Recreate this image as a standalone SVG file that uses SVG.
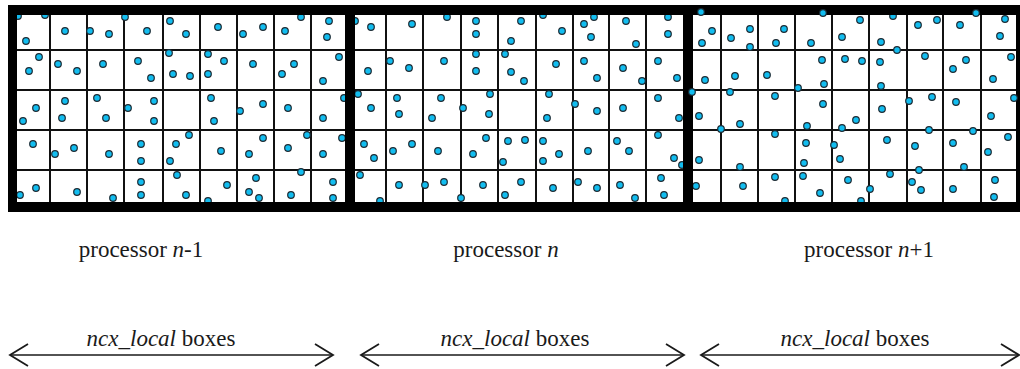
<svg xmlns="http://www.w3.org/2000/svg" width="1020" height="369" viewBox="0 0 1020 369">
<defs>
<style>
.bg{fill:#ffffff}
.g{stroke:#111;stroke-width:2;fill:none}
.frame{fill:#000;fill-rule:evenodd}
.p{fill:#12bdf0;stroke:#1b2a33;stroke-width:1.2}
.lbl{font-family:"Liberation Serif","Times New Roman",serif;font-size:23px;fill:#1a1a1a;text-anchor:middle}
.it{font-style:italic}
.arr{stroke:#1a1a1a;stroke-width:1.6;fill:none;marker-start:url(#chev);marker-end:url(#chev)}
</style>
<marker id="chev" markerUnits="userSpaceOnUse" markerWidth="22" markerHeight="26" viewBox="0 0 22 26" refX="20" refY="13" orient="auto-start-reverse">
<path d="M2,2 L20,13 L2,24" fill="none" stroke="#1a1a1a" stroke-width="1.8"/>
</marker>
</defs>
<rect class="bg" x="0" y="0" width="1020" height="369"/>

<g id="processor-n-minus-1">
<path class="g" d="M17,50H345M17,90H345M17,130H345M17,170H345M50,15V202M87,15V202M124,15V202M163,15V202M200,15V202M237,15V202M274,15V202M311,15V202"/>
<g>
<circle class="p" cx="18" cy="16" r="3.3"/><circle class="p" cx="45" cy="15" r="3.3"/><circle class="p" cx="26" cy="41" r="3.3"/><circle class="p" cx="65" cy="31" r="3.3"/><circle class="p" cx="90" cy="31" r="3.3"/><circle class="p" cx="109" cy="34" r="3.3"/><circle class="p" cx="125" cy="17" r="3.3"/><circle class="p" cx="147" cy="31" r="3.3"/><circle class="p" cx="170" cy="21" r="3.3"/><circle class="p" cx="186" cy="34" r="3.3"/><circle class="p" cx="218" cy="27" r="3.3"/><circle class="p" cx="243" cy="34" r="3.3"/><circle class="p" cx="263" cy="27" r="3.3"/><circle class="p" cx="285" cy="31" r="3.3"/><circle class="p" cx="301" cy="17" r="3.3"/><circle class="p" cx="329" cy="21" r="3.3"/><circle class="p" cx="327" cy="37" r="3.3"/>
<circle class="p" cx="39" cy="57" r="3.3"/><circle class="p" cx="29" cy="71" r="3.3"/><circle class="p" cx="58" cy="64" r="3.3"/><circle class="p" cx="77" cy="71" r="3.3"/><circle class="p" cx="103" cy="64" r="3.3"/><circle class="p" cx="138" cy="61" r="3.3"/><circle class="p" cx="151" cy="78" r="3.3"/><circle class="p" cx="169" cy="53" r="3.3"/><circle class="p" cx="173" cy="74" r="3.3"/><circle class="p" cx="190" cy="76" r="3.3"/><circle class="p" cx="208" cy="54" r="3.3"/><circle class="p" cx="224" cy="61" r="3.3"/><circle class="p" cx="208" cy="74" r="3.3"/><circle class="p" cx="253" cy="64" r="3.3"/><circle class="p" cx="294" cy="64" r="3.3"/><circle class="p" cx="282" cy="74" r="3.3"/><circle class="p" cx="339" cy="57" r="3.3"/><circle class="p" cx="323" cy="81" r="3.3"/>
<circle class="p" cx="36" cy="108" r="3.3"/><circle class="p" cx="23" cy="121" r="3.3"/><circle class="p" cx="65" cy="101" r="3.3"/><circle class="p" cx="62" cy="118" r="3.3"/><circle class="p" cx="97" cy="98" r="3.3"/><circle class="p" cx="106" cy="118" r="3.3"/><circle class="p" cx="128" cy="108" r="3.3"/><circle class="p" cx="154" cy="101" r="3.3"/><circle class="p" cx="154" cy="121" r="3.3"/><circle class="p" cx="211" cy="98" r="3.3"/><circle class="p" cx="214" cy="121" r="3.3"/><circle class="p" cx="240" cy="111" r="3.3"/><circle class="p" cx="263" cy="104" r="3.3"/><circle class="p" cx="288" cy="108" r="3.3"/><circle class="p" cx="323" cy="118" r="3.3"/><circle class="p" cx="344" cy="98" r="3.3"/>
<circle class="p" cx="33" cy="144" r="3.3"/><circle class="p" cx="55" cy="154" r="3.3"/><circle class="p" cx="74" cy="148" r="3.3"/><circle class="p" cx="109" cy="154" r="3.3"/><circle class="p" cx="141" cy="144" r="3.3"/><circle class="p" cx="141" cy="161" r="3.3"/><circle class="p" cx="189" cy="135" r="3.3"/><circle class="p" cx="176" cy="144" r="3.3"/><circle class="p" cx="170" cy="161" r="3.3"/><circle class="p" cx="221" cy="151" r="3.3"/><circle class="p" cx="263" cy="138" r="3.3"/><circle class="p" cx="249" cy="154" r="3.3"/><circle class="p" cx="307" cy="135" r="3.3"/><circle class="p" cx="288" cy="148" r="3.3"/><circle class="p" cx="342" cy="138" r="3.3"/><circle class="p" cx="323" cy="154" r="3.3"/>
<circle class="p" cx="20" cy="195" r="3.3"/><circle class="p" cx="36" cy="188" r="3.3"/><circle class="p" cx="77" cy="192" r="3.3"/><circle class="p" cx="113" cy="198" r="3.3"/><circle class="p" cx="141" cy="182" r="3.3"/><circle class="p" cx="141" cy="195" r="3.3"/><circle class="p" cx="177" cy="175" r="3.3"/><circle class="p" cx="186" cy="195" r="3.3"/><circle class="p" cx="208" cy="201" r="3.3"/><circle class="p" cx="227" cy="185" r="3.3"/><circle class="p" cx="256" cy="178" r="3.3"/><circle class="p" cx="249" cy="192" r="3.3"/><circle class="p" cx="259" cy="198" r="3.3"/><circle class="p" cx="301" cy="172" r="3.3"/><circle class="p" cx="291" cy="195" r="3.3"/><circle class="p" cx="333" cy="182" r="3.3"/><circle class="p" cx="333" cy="198" r="3.3"/>
</g>
</g>

<g id="processor-n">
<path class="g" d="M355,50H683M355,90H683M355,130H683M355,170H683M386,15V202M423,15V202M461,15V202M498,15V202M536,15V202M573,15V202M609,15V202M646,15V202"/>
<g>
<circle class="p" cx="355" cy="21" r="3.3"/><circle class="p" cx="371" cy="27" r="3.3"/><circle class="p" cx="412" cy="24" r="3.3"/><circle class="p" cx="447" cy="17" r="3.3"/><circle class="p" cx="476" cy="21" r="3.3"/><circle class="p" cx="476" cy="34" r="3.3"/><circle class="p" cx="521" cy="21" r="3.3"/><circle class="p" cx="511" cy="41" r="3.3"/><circle class="p" cx="543" cy="15" r="3.3"/><circle class="p" cx="562" cy="31" r="3.3"/><circle class="p" cx="584" cy="24" r="3.3"/><circle class="p" cx="594" cy="17" r="3.3"/><circle class="p" cx="591" cy="37" r="3.3"/><circle class="p" cx="626" cy="21" r="3.3"/><circle class="p" cx="636" cy="44" r="3.3"/><circle class="p" cx="668" cy="17" r="3.3"/><circle class="p" cx="668" cy="34" r="3.3"/>
<circle class="p" cx="368" cy="71" r="3.3"/><circle class="p" cx="390" cy="61" r="3.3"/><circle class="p" cx="409" cy="68" r="3.3"/><circle class="p" cx="444" cy="61" r="3.3"/><circle class="p" cx="476" cy="54" r="3.3"/><circle class="p" cx="476" cy="71" r="3.3"/><circle class="p" cx="505" cy="54" r="3.3"/><circle class="p" cx="511" cy="72" r="3.3"/><circle class="p" cx="524" cy="81" r="3.3"/><circle class="p" cx="556" cy="64" r="3.3"/><circle class="p" cx="584" cy="61" r="3.3"/><circle class="p" cx="597" cy="78" r="3.3"/><circle class="p" cx="623" cy="68" r="3.3"/><circle class="p" cx="642" cy="81" r="3.3"/><circle class="p" cx="658" cy="61" r="3.3"/><circle class="p" cx="677" cy="78" r="3.3"/>
<circle class="p" cx="358" cy="94" r="3.3"/><circle class="p" cx="371" cy="108" r="3.3"/><circle class="p" cx="397" cy="98" r="3.3"/><circle class="p" cx="399" cy="114" r="3.3"/><circle class="p" cx="441" cy="98" r="3.3"/><circle class="p" cx="432" cy="118" r="3.3"/><circle class="p" cx="463" cy="108" r="3.3"/><circle class="p" cx="490" cy="94" r="3.3"/><circle class="p" cx="489" cy="114" r="3.3"/><circle class="p" cx="549" cy="94" r="3.3"/><circle class="p" cx="547" cy="118" r="3.3"/><circle class="p" cx="575" cy="104" r="3.3"/><circle class="p" cx="597" cy="111" r="3.3"/><circle class="p" cx="623" cy="108" r="3.3"/><circle class="p" cx="658" cy="98" r="3.3"/><circle class="p" cx="679" cy="118" r="3.3"/>
<circle class="p" cx="364" cy="144" r="3.3"/><circle class="p" cx="374" cy="158" r="3.3"/><circle class="p" cx="393" cy="151" r="3.3"/><circle class="p" cx="412" cy="144" r="3.3"/><circle class="p" cx="438" cy="151" r="3.3"/><circle class="p" cx="486" cy="138" r="3.3"/><circle class="p" cx="473" cy="154" r="3.3"/><circle class="p" cx="508" cy="141" r="3.3"/><circle class="p" cx="525" cy="140" r="3.3"/><circle class="p" cx="503" cy="162" r="3.3"/><circle class="p" cx="543" cy="141" r="3.3"/><circle class="p" cx="559" cy="154" r="3.3"/><circle class="p" cx="543" cy="161" r="3.3"/><circle class="p" cx="588" cy="151" r="3.3"/><circle class="p" cx="617" cy="141" r="3.3"/><circle class="p" cx="629" cy="151" r="3.3"/><circle class="p" cx="658" cy="135" r="3.3"/><circle class="p" cx="674" cy="158" r="3.3"/><circle class="p" cx="682" cy="165" r="3.3"/>
<circle class="p" cx="360" cy="175" r="3.3"/><circle class="p" cx="380" cy="201" r="3.3"/><circle class="p" cx="399" cy="185" r="3.3"/><circle class="p" cx="425" cy="185" r="3.3"/><circle class="p" cx="444" cy="182" r="3.3"/><circle class="p" cx="461" cy="198" r="3.3"/><circle class="p" cx="483" cy="185" r="3.3"/><circle class="p" cx="521" cy="182" r="3.3"/><circle class="p" cx="505" cy="195" r="3.3"/><circle class="p" cx="553" cy="188" r="3.3"/><circle class="p" cx="578" cy="182" r="3.3"/><circle class="p" cx="597" cy="188" r="3.3"/><circle class="p" cx="620" cy="185" r="3.3"/><circle class="p" cx="635" cy="198" r="3.3"/><circle class="p" cx="661" cy="178" r="3.3"/><circle class="p" cx="664" cy="195" r="3.3"/>
</g>
</g>

<g id="processor-n-plus-1">
<path class="g" d="M693,50H1016M693,90H1016M693,130H1016M693,170H1016M721,15V202M758,15V202M795,15V202M832,15V202M869,15V202M907,15V202M943,15V202M981,15V202"/>
<g>
<circle class="p" cx="712" cy="31" r="3.3"/><circle class="p" cx="702" cy="43" r="3.3"/><circle class="p" cx="731" cy="38" r="3.3"/><circle class="p" cx="750" cy="29" r="3.3"/><circle class="p" cx="750" cy="47" r="3.3"/><circle class="p" cx="784" cy="29" r="3.3"/><circle class="p" cx="776" cy="43" r="3.3"/><circle class="p" cx="811" cy="43" r="3.3"/><circle class="p" cx="860" cy="20" r="3.3"/><circle class="p" cx="842" cy="37" r="3.3"/><circle class="p" cx="893" cy="16" r="3.3"/><circle class="p" cx="881" cy="42" r="3.3"/><circle class="p" cx="897" cy="50" r="3.3"/><circle class="p" cx="918" cy="25" r="3.3"/><circle class="p" cx="937" cy="20" r="3.3"/><circle class="p" cx="960" cy="25" r="3.3"/><circle class="p" cx="1005" cy="19" r="3.3"/><circle class="p" cx="1000" cy="36" r="3.3"/>
<circle class="p" cx="705" cy="80" r="3.3"/><circle class="p" cx="735" cy="76" r="3.3"/><circle class="p" cx="767" cy="75" r="3.3"/><circle class="p" cx="822" cy="60" r="3.3"/><circle class="p" cx="824" cy="84" r="3.3"/><circle class="p" cx="798" cy="88" r="3.3"/><circle class="p" cx="845" cy="59" r="3.3"/><circle class="p" cx="862" cy="61" r="3.3"/><circle class="p" cx="880" cy="62" r="3.3"/><circle class="p" cx="881" cy="86" r="3.3"/><circle class="p" cx="925" cy="56" r="3.3"/><circle class="p" cx="953" cy="69" r="3.3"/><circle class="p" cx="966" cy="60" r="3.3"/><circle class="p" cx="1011" cy="57" r="3.3"/><circle class="p" cx="993" cy="79" r="3.3"/>
<circle class="p" cx="699" cy="116" r="3.3"/><circle class="p" cx="730" cy="92" r="3.3"/><circle class="p" cx="740" cy="124" r="3.3"/><circle class="p" cx="721" cy="129" r="3.3"/><circle class="p" cx="775" cy="96" r="3.3"/><circle class="p" cx="823" cy="104" r="3.3"/><circle class="p" cx="807" cy="126" r="3.3"/><circle class="p" cx="842" cy="128" r="3.3"/><circle class="p" cx="856" cy="120" r="3.3"/><circle class="p" cx="882" cy="109" r="3.3"/><circle class="p" cx="909" cy="101" r="3.3"/><circle class="p" cx="932" cy="97" r="3.3"/><circle class="p" cx="929" cy="130" r="3.3"/><circle class="p" cx="956" cy="102" r="3.3"/><circle class="p" cx="973" cy="131" r="3.3"/><circle class="p" cx="991" cy="116" r="3.3"/>
<circle class="p" cx="699" cy="160" r="3.3"/><circle class="p" cx="740" cy="167" r="3.3"/><circle class="p" cx="775" cy="134" r="3.3"/><circle class="p" cx="806" cy="143" r="3.3"/><circle class="p" cx="804" cy="163" r="3.3"/><circle class="p" cx="834" cy="145" r="3.3"/><circle class="p" cx="840" cy="159" r="3.3"/><circle class="p" cx="887" cy="140" r="3.3"/><circle class="p" cx="915" cy="146" r="3.3"/><circle class="p" cx="919" cy="170" r="3.3"/><circle class="p" cx="953" cy="143" r="3.3"/><circle class="p" cx="964" cy="167" r="3.3"/><circle class="p" cx="1008" cy="137" r="3.3"/><circle class="p" cx="988" cy="152" r="3.3"/>
<circle class="p" cx="696" cy="186" r="3.3"/><circle class="p" cx="743" cy="186" r="3.3"/><circle class="p" cx="775" cy="177" r="3.3"/><circle class="p" cx="785" cy="201" r="3.3"/><circle class="p" cx="803" cy="176" r="3.3"/><circle class="p" cx="820" cy="193" r="3.3"/><circle class="p" cx="848" cy="180" r="3.3"/><circle class="p" cx="861" cy="201" r="3.3"/><circle class="p" cx="870" cy="189" r="3.3"/><circle class="p" cx="890" cy="174" r="3.3"/><circle class="p" cx="912" cy="182" r="3.3"/><circle class="p" cx="921" cy="190" r="3.3"/><circle class="p" cx="953" cy="189" r="3.3"/><circle class="p" cx="995" cy="180" r="3.3"/><circle class="p" cx="994" cy="197" r="3.3"/>
</g>
</g>

<g id="frame">
<path class="frame" d="M8,5H1022V212H8Z M17,15H345V202H17Z M355,15H683V202H355Z M693,15H1016V202H693Z"/>
<circle class="p" cx="701" cy="12" r="3.3"/><circle class="p" cx="823" cy="13" r="3.3"/><circle class="p" cx="976" cy="13" r="3.3"/><circle class="p" cx="692" cy="92" r="3.3"/><circle class="p" cx="1014" cy="98" r="3.3"/>
</g>

<g id="labels">
<text class="lbl" x="141" y="257">processor <tspan class="it">n</tspan>-1</text>
<text class="lbl" x="506" y="257">processor <tspan class="it">n</tspan></text>
<text class="lbl" x="869" y="257">processor <tspan class="it">n</tspan>+1</text>
<text class="lbl" x="161" y="346"><tspan class="it">ncx_local</tspan> boxes</text>
<text class="lbl" x="515" y="346"><tspan class="it">ncx_local</tspan> boxes</text>
<text class="lbl" x="855" y="346"><tspan class="it">ncx_local</tspan> boxes</text>
</g>

<g id="connectors">
<line class="arr" x1="10" y1="355" x2="333" y2="355"/>
<line class="arr" x1="361" y1="355" x2="684" y2="355"/>
<line class="arr" x1="701" y1="355" x2="1019" y2="355"/>
</g>
</svg>
